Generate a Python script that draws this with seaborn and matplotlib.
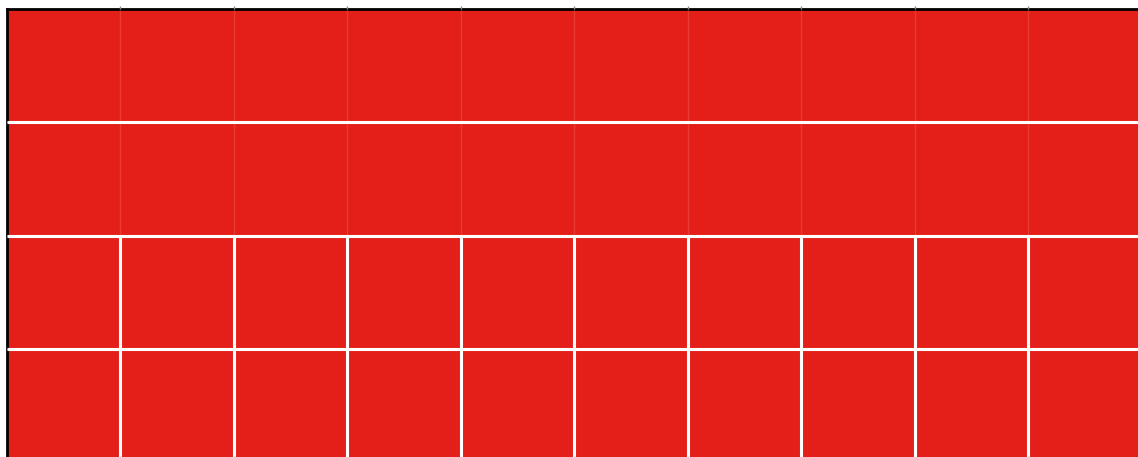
import numpy as np
import matplotlib
matplotlib.use('Agg')
import matplotlib.pyplot as plt
import seaborn as sns

# Grid of equal cells (4 visible rows x 10 columns), all the same value
row_labels = ['r1', 'r2', 'r3', 'r4']
col_labels = ['c1', 'c2', 'c3', 'c4', 'c5', 'c6', 'c7', 'c8', 'c9', 'c10']
values = [
    [1, 1, 1, 1, 1, 1, 1, 1, 1, 1],
    [1, 1, 1, 1, 1, 1, 1, 1, 1, 1],
    [1, 1, 1, 1, 1, 1, 1, 1, 1, 1],
    [1, 1, 1, 1, 1, 1, 1, 1, 1, 1],
]
# rows from which cells are split by vertical lines
split_from_row = 2

sns.set_style('white')
W, H = 1138, 457
fig = plt.figure(figsize=(W / 100, H / 100), dpi=100)
# axes runs past the right and bottom edge, like a cropped picture
ax = fig.add_axes([6.5 / W, 1 - (8.5 + 454) / H, 1135 / W, 454 / H])

data = np.array(values)
sns.heatmap(data, ax=ax, cmap=['#e41f1a'], cbar=False, linewidths=0,
            xticklabels=False, yticklabels=False)

n_rows, n_cols = data.shape
ax.hlines(np.arange(1, n_rows), 0, n_cols, colors='white', linewidth=2.2, zorder=3)
ax.vlines(np.arange(1, n_cols), split_from_row, n_rows, colors='white', linewidth=2.2, zorder=3)

# faint boundary grid and small ticks
ax.set_xticks(np.arange(1, n_cols))
ax.set_yticks(np.arange(1, n_rows))
ax.set_xticklabels([])
ax.set_yticklabels([])
ax.grid(True, color='white', alpha=0.12, linewidth=1)
ax.set_axisbelow(False)
ax.xaxis.tick_top()
ax.tick_params(length=2, width=1, color='#888888', direction='out')

for side in ['left', 'top']:
    ax.spines[side].set_visible(True)
    ax.spines[side].set_color('black')
    ax.spines[side].set_linewidth(2)
for side in ['right', 'bottom']:
    ax.spines[side].set_visible(False)

fig.savefig('out.png', dpi=100)
